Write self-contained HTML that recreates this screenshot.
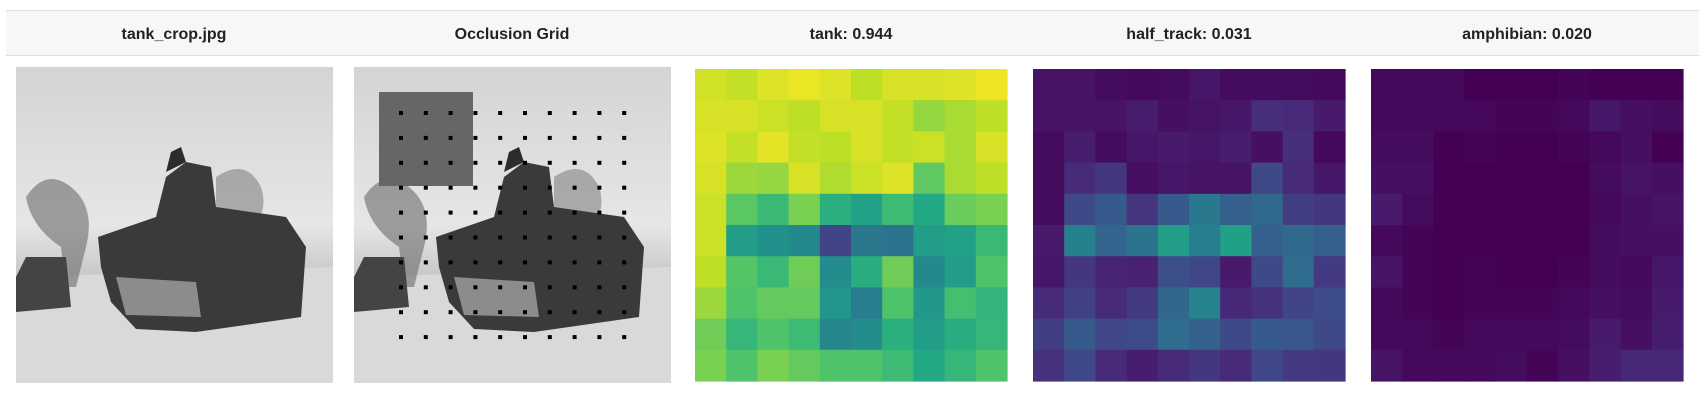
<!DOCTYPE html>
<html><head><meta charset="utf-8">
<style>
html,body{margin:0;padding:0;background:#fff;width:1699px;height:419px;overflow:hidden;font-family:"Liberation Sans",sans-serif;}
</style></head>
<body>
<svg id="root" width="1699" height="419" viewBox="0 0 1699 419" xmlns="http://www.w3.org/2000/svg">
  <defs>
    <linearGradient id="sky" x1="0" y1="0" x2="0" y2="1">
      <stop offset="0" stop-color="#d4d4d4"/><stop offset="0.5" stop-color="#e6e6e6"/><stop offset="0.72" stop-color="#bdbdbd"/><stop offset="0.8" stop-color="#d8d8d8"/><stop offset="1" stop-color="#e2e2e2"/>
    </linearGradient>
  </defs>
  <g>
    <rect x="6" y="10" width="1693" height="46" fill="#f7f7f7"/>
    <line x1="6" y1="10.5" x2="1699" y2="10.5" stroke="#dedede"/>
    <line x1="6" y1="55.5" x2="1699" y2="55.5" stroke="#dedede"/>
    <g font-family="Liberation Sans, sans-serif" font-weight="bold" font-size="16" fill="#222" text-anchor="middle">
      <text x="174" y="39">tank_crop.jpg</text>
      <text x="512" y="39">Occlusion Grid</text>
      <text x="851" y="39">tank: 0.944</text>
      <text x="1189" y="39">half_track: 0.031</text>
      <text x="1527" y="39">amphibian: 0.020</text>
    </g>
  </g>
  <g id="photo1" transform="translate(16,67)">
    <rect width="317" height="316" fill="url(#sky)"/>
    <path d="M0 210 L317 200 L317 316 L0 316Z" fill="#d9d9d9"/>
    <path d="M10 130 q20 -30 45 -10 q25 20 15 60 l-10 40 l-10 0 l-5-40 q-30 -20 -35 -50z" fill="#6a6a6a" opacity="0.6"/>
    <path d="M200 110 q30 -20 45 10 q10 30 -20 50 l-25 -10z" fill="#707070" opacity="0.5"/>
    <path d="M0 210 L10 190 L50 190 L55 240 L0 245Z" fill="#444"/>
    <path d="M82 170 L140 150 L150 110 L170 95 L195 100 L200 140 L270 150 L290 180 L285 250 L180 265 L120 262 L95 235 L85 200Z" fill="#3a3a3a"/>
    <path d="M100 210 L180 215 L185 250 L110 248Z" fill="#8c8c8c"/>
    <path d="M150 105 L155 85 L165 80 L170 95Z" fill="#2c2c2c"/>
  </g>
  <g transform="translate(354,67)">
    <use href="#photo1" transform="translate(-16,-67)"/>
  </g>
  <rect x="379" y="92" width="94" height="94" fill="#666"/>
  <g id="dots"></g>
  <g id="hm"></g>
</svg>
<script>
const tankVals = [
[.93,.91,.95,.97,.95,.90,.94,.94,.95,.98],
[.94,.94,.92,.90,.94,.94,.91,.84,.87,.90],
[.95,.91,.96,.91,.90,.94,.91,.92,.87,.94],
[.94,.85,.84,.94,.88,.92,.95,.75,.87,.90],
[.92,.74,.67,.80,.63,.57,.68,.60,.77,.80],
[.92,.55,.50,.47,.20,.40,.38,.55,.57,.67],
[.90,.73,.67,.78,.48,.62,.78,.47,.55,.72],
[.85,.72,.76,.76,.52,.42,.72,.53,.70,.65],
[.78,.66,.72,.68,.45,.48,.63,.55,.62,.66],
[.80,.72,.80,.76,.72,.72,.68,.60,.66,.72]];
const halfTrackVals = [
[.05,.05,.03,.02,.03,.06,.03,.03,.03,.02],
[.05,.05,.05,.08,.04,.05,.06,.13,.12,.07],
[.03,.08,.03,.06,.07,.06,.08,.04,.13,.02],
[.03,.12,.16,.04,.06,.05,.05,.22,.12,.06],
[.03,.22,.28,.15,.28,.40,.30,.34,.18,.16],
[.07,.43,.32,.38,.55,.42,.56,.30,.34,.30],
[.06,.16,.10,.09,.24,.21,.07,.22,.35,.17],
[.12,.19,.12,.17,.33,.44,.11,.14,.20,.23],
[.18,.28,.21,.23,.35,.31,.22,.28,.27,.22],
[.14,.22,.12,.08,.12,.16,.12,.21,.17,.16]];
const amphibianVals = [
[.02,.02,.02,.00,.00,.00,.01,.00,.00,.00],
[.02,.02,.02,.02,.01,.01,.02,.06,.04,.03],
[.03,.03,.00,.01,.00,.00,.01,.02,.04,.00],
[.04,.04,.00,.00,.00,.00,.00,.03,.05,.04],
[.07,.03,.00,.00,.00,.00,.00,.02,.04,.05],
[.02,.01,.00,.00,.00,.00,.00,.03,.04,.04],
[.05,.01,.00,.01,.00,.00,.01,.03,.02,.06],
[.02,.01,.00,.01,.01,.01,.02,.04,.03,.07],
[.02,.02,.01,.02,.02,.02,.03,.07,.04,.08],
[.05,.02,.02,.02,.03,.01,.04,.08,.11,.11]];
const heatmapNames = ["tank","half-track","amphibian"];

const VIR = ["#440154","#482475","#414487","#355f8d","#2a788e","#21918c","#22a884","#44bf70","#7ad151","#bddf26","#fde725"];
function hex(h){return [1,3,5].map(i=>parseInt(h.substr(i,2),16));}
function viridis(v){v=Math.max(0,Math.min(1,v));const p=v*10,i=Math.min(9,Math.floor(p)),t=p-i;const a=hex(VIR[i]),b=hex(VIR[i+1]);return "rgb("+a.map((x,k)=>Math.round(x+(b[k]-x)*t)).join(",")+")";}
const NS="http://www.w3.org/2000/svg";
const hmX=[695,1033,1371], hmY=69, hmSize=312;
const all=[tankVals,halfTrackVals,amphibianVals];
const hm=document.getElementById("hm");
all.forEach((grid,h)=>{
  const g=document.createElementNS(NS,"g");
  
  
  const n=grid.length, c=hmSize/n;
  grid.forEach((row,r)=>row.forEach((v,k)=>{
    const rc=document.createElementNS(NS,"rect");
    rc.setAttribute("x",hmX[h]+k*c);rc.setAttribute("y",hmY+r*c);
    rc.setAttribute("width",c+0.6);rc.setAttribute("height",c+0.6);
    rc.setAttribute("fill",viridis(v));
    
    
    g.appendChild(rc);
  }));
  hm.appendChild(g);
});
const dots=document.getElementById("dots");
for(let r=0;r<10;r++)for(let k=0;k<10;k++){
  const d=document.createElementNS(NS,"rect");
  d.setAttribute("x",399+k*24.8);d.setAttribute("y",111+r*24.9);
  d.setAttribute("width",4);d.setAttribute("height",4);d.setAttribute("fill","#000");
  
  
  dots.appendChild(d);
}
</script>
</body></html>
